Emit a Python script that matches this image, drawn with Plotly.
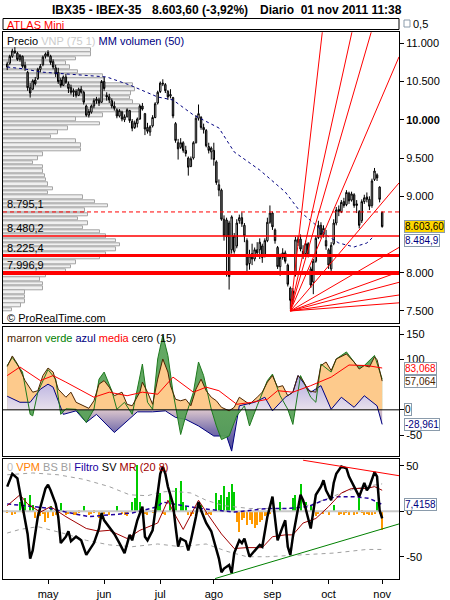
import numpy as np
import pandas as pd
import plotly.graph_objects as go

FONT = "Liberation Sans, Arial, sans-serif"

# sessions of the Bolsa de Madrid (closed 22 and 25 April)
sessions = pd.bdate_range("2011-04-06", "2011-11-01")
sessions = sessions[~sessions.isin(pd.to_datetime(["2011-04-22", "2011-04-25"]))]
month_labels = ["may", "jun", "jul", "ago", "sep", "oct", "nov"]

# --- IBEX-35 daily candles ---
opens = [
    10690, 10740, 10830, 10900, 10870, 10790, 10830, 10710, 10620, 10420, 10400, 10520, 10540, 10660, 10720, 10830,
    10880, 10830, 10760, 10680, 10620, 10520, 10450, 10560, 10470, 10420, 10360, 10370, 10320, 10400, 10360, 10180,
    10060, 10100, 10180, 10250, 10260, 10230,
    10500, 10320, 10300, 10250, 10180, 10130, 10050, 10100, 10000, 10040, 10120, 9980, 9900, 9950, 10010, 10180,
    10080, 9900, 9840, 9920, 10030, 10220,
    10370, 10480, 10460, 10370, 10310, 10290, 9950, 9700, 9640, 9700, 9600, 9500, 9390, 9500, 9700, 10020, 10030,
    9900, 9860, 9650, 9580,
    9600, 9450, 9150, 9080, 8700, 8690, 8650, 8300, 8280, 8350, 8680, 8720, 8620, 8420, 8120, 8250, 8180, 8300,
    8300, 8350, 8220, 8420, 8660,
    8780, 8560, 8330, 8080, 8200, 8260, 8100, 7800, 7650, 8000, 8400, 8440, 8280, 8250, 8380, 8050, 7880, 8150,
    8460, 8620, 8500, 8420,
    8300, 8050, 8380, 8650, 8830, 8800, 8930, 8890, 9040, 8950, 9020, 8880, 8800, 8680, 8930, 8990, 8960, 8880,
    9220, 9280, 9120,
    8790,
]
highs = [
    10760, 10850, 10930, 10950, 10890, 10860, 10840, 10760, 10640, 10480, 10530, 10560, 10680, 10730, 10840, 10880,
    10910, 10850, 10790, 10720, 10680, 10550, 10580, 10600, 10500, 10460, 10410, 10400, 10420, 10440, 10380, 10200,
    10140, 10200, 10280, 10300, 10290, 10520,
    10560, 10360, 10340, 10280, 10240, 10150, 10140, 10120, 10070, 10150, 10130, 10010, 9990, 10030, 10200, 10220,
    10090, 9960, 9930, 10060, 10230, 10380,
    10500, 10530, 10480, 10390, 10400, 10300, 9970, 9750, 9760, 9720, 9660, 9520, 9520, 9720, 10060, 10200, 10050,
    9950, 9880, 9700, 9650,
    9700, 9470, 9220, 9100, 8750, 8720, 8680, 8750, 8520, 8700, 8760, 8790, 8650, 8450, 8300, 8380, 8330, 8400,
    8450, 8380, 8450, 8720, 8880,
    8800, 8580, 8350, 8250, 8320, 8290, 8120, 7820, 7800, 8470, 8480, 8500, 8360, 8420, 8400, 8080, 8180, 8480,
    8680, 8660, 8620, 8560,
    8320, 8400, 8700, 8860, 8880, 8950, 8980, 9080, 9060, 9060, 9040, 8950, 8820, 8960, 9020, 9050, 9000, 9230,
    9370, 9300, 9130,
    8800,
]
lows = [
    10650, 10720, 10810, 10860, 10770, 10760, 10680, 10640, 10380, 10290, 10390, 10450, 10520, 10620, 10700, 10800,
    10820, 10720, 10660, 10560, 10470, 10420, 10440, 10470, 10350, 10330, 10300, 10290, 10310, 10340, 10200, 10040,
    10030, 10080, 10150, 10210, 10180, 10220,
    10380, 10250, 10220, 10150, 10120, 10020, 10030, 9980, 9970, 10030, 9960, 9850, 9880, 9900, 10000, 10120,
    9800, 9820, 9790, 9900, 10020, 10200,
    10350, 10440, 10350, 10260, 10280, 10020, 9700, 9480, 9620, 9570, 9520, 9270, 9380, 9480, 9690, 9990, 9870,
    9820, 9640, 9560, 9480,
    9400, 9150, 9000, 8680, 8420, 7950, 7780, 8250, 8250, 8320, 8640, 8600, 8400, 8020, 8040, 8100, 8150, 8220,
    8180, 8130, 8200, 8400, 8640,
    8560, 8380, 8050, 7960, 8170, 8120, 7820, 7520, 7600, 7950, 8350, 8280, 8180, 8230, 8200, 7800, 7720, 8130,
    8440, 8450, 8460, 8300,
    8050, 7980, 8360, 8620, 8740, 8780, 8850, 8870, 8900, 8930, 8850, 8780, 8580, 8650, 8900, 8920, 8820, 8850,
    9200, 9200, 8920,
    8590,
]
closes = [
    10730, 10830, 10900, 10880, 10790, 10840, 10700, 10680, 10420, 10350, 10510, 10470, 10660, 10700, 10820, 10860,
    10840, 10750, 10690, 10600, 10500, 10450, 10560, 10490, 10410, 10360, 10380, 10320, 10400, 10360, 10230, 10060,
    10110, 10180, 10250, 10270, 10220, 10500,
    10410, 10300, 10260, 10180, 10150, 10050, 10120, 10010, 10040, 10130, 9990, 9890, 9960, 10010, 10180, 10140,
    9880, 9850, 9910, 10030, 10210, 10360,
    10480, 10470, 10380, 10300, 10330, 10050, 9730, 9620, 9700, 9600, 9560, 9380, 9490, 9700, 10020, 10080, 9900,
    9870, 9660, 9600, 9630,
    9480, 9180, 9080, 8700, 8480, 8470, 7950, 8730, 8480, 8650, 8720, 8640, 8480, 8100, 8220, 8180, 8300, 8260,
    8400, 8200, 8420, 8660, 8780,
    8600, 8420, 8080, 8200, 8260, 8150, 7850, 7640, 7760, 8430, 8440, 8310, 8240, 8380, 8220, 7840, 8150, 8450,
    8620, 8500, 8580, 8350,
    8100, 8360, 8650, 8820, 8800, 8920, 8880, 9050, 8940, 9030, 8880, 8900, 8620, 8930, 8980, 8960, 8870, 9200,
    9330, 9240, 8960,
    8603.6,
]
assert len(opens) == len(highs) == len(lows) == len(closes) == len(sessions)

# MM volumen (50), drawn on the price scale (session index, value)
mmvol_i = [0, 7, 13, 23, 36, 39, 48, 59, 65, 73, 83, 89, 99, 109, 115, 121, 125, 130, 136, 141, 144]
mmvol_v = [10690, 10664, 10625, 10600, 10560, 10560, 10455, 10298, 10259, 10063, 9893, 9579, 9343, 9056, 8794,
           8624, 8493, 8389, 8337, 8389, 8485]

# VNP (75 1) volume profile, top bin to bottom bin
vnp_top, vnp_bottom = 10910, 7515
vnp_volume = [88, 88, 73, 63, 67, 75, 100, 102, 130, 132, 128, 127, 130, 137, 137, 100, 73, 97, 65, 55, 48,
              73, 78, 78, 40, 35, 30, 40, 40, 42, 43, 45, 50, 45, 80, 92, 105, 82, 85, 75, 85, 80, 97, 103,
              113, 117, 113, 103, 97, 73, 68, 63, 43, 37, 40, 40, 22, 22, 22, 18, 9]

# support / resistance levels
levels = [8795.1, 8480.2, 8225.4, 7996.9]
level_text = ["8.795,1", "8.480,2", "8.225,4", "7.996,9"]

# fan from the September low (points per session)
fan_origin = ("2011-09-12", 7500)
fan_slopes = [291, 151, 115, 78, 39.3, 19.5, 12, 8.8, 4.9, 2.5]

# --- marron verde azul media cero (15) ---
marron_i = [0, 2, 4, 7, 10, 12, 14, 16, 18, 20, 23, 25, 27, 30, 32, 34, 36, 38, 40, 42, 45, 47, 49, 52, 53, 55,
            57, 59, 61, 63, 64, 66, 68, 70, 72, 74, 76, 78, 80, 82, 84, 87, 89, 91, 93, 95, 98, 100, 102, 104,
            106, 108, 110, 112, 114, 116, 118, 121, 123, 125, 127, 129, 133, 136, 138, 140, 142, 144, 145, 147]
marron_v = [86, 107, 91, 58, 35, 38, 68, 83, 75, 41, 25, 35, 15, 8, 3, 18, 51, 58, 45, 28, 35, 11, 8, 35, 55, 35,
            11, 61, 101, 75, 48, 21, 18, 21, 8, 41, 61, 38, 25, 18, 5, -2, 5, 25, 18, 11, 25, 35, 55, 68,
            45, 48, 28, 35, 68, 58, 38, 35, 88, 95, 78, 101, 111, 95, 81, 88, 85, 105, 100, 57.064]
verde_i = [0, 2, 6, 9, 10, 12, 16, 19, 21, 23, 27, 31, 34, 36, 38, 41, 43, 46, 49, 53, 55, 57, 59, 61, 63, 65,
           68, 70, 73, 75, 77, 80, 82, 84, 87, 90, 93, 95, 98, 102, 104, 107, 110, 112, 115, 117, 119, 121, 123,
           127, 129, 133, 137, 140, 144, 147]
verde_v = [88, 104, 75, -9, -12, 35, 80, 61, -9, 2, 1, -25, 1, 61, 75, 38, 1, 15, -9, 91, 15, 1, 101, 148, 108,
           35, -49, -12, 35, 95, 68, 1, -32, -59, -52, -12, 8, -32, 8, 58, 71, 28, 1, -29, 68, 48, 25, 15, 91,
           75, 101, 115, 88, 88, 108, 61]
azul_i = [0, 5, 9, 13, 16, 18, 22, 27, 31, 35, 42, 47, 51, 57, 62, 66, 70, 75, 81, 86, 88, 91, 97, 101, 104, 109,
          112, 114, 119, 123, 127, 131, 136, 140, 145, 147]
azul_v = [27, 15, 15, 41, 51, 45, -9, -2, -25, -9, -45, -22, -4, -4, -2, -15, -19, -32, -52, -52, -82, 8, 15, 25,
          -2, 25, 35, 68, 35, 48, 1, 25, 5, 28, 8, -28.961]
media_i = [0, 5, 13, 18, 23, 34, 40, 47, 53, 59, 65, 73, 78, 83, 90, 96, 102, 106, 112, 119, 127, 134, 141, 147]
media_v = [68, 85, 58, 68, 55, 25, 35, 28, 35, 31, 65, 35, 45, 38, 11, 15, 21, 38, 35, 48, 65, 89, 88, 83.068]

# --- 0 VPM BS BI Filtro SV MR (20 8) ---
vpm_i = [0, 2, 3, 5, 6, 7, 9, 10, 11, 12, 13, 14, 15, 16, 17, 18, 19, 20, 21, 23, 24, 26, 27, 28, 30, 32, 33, 34,
         36, 38, 40, 43, 45, 46, 47, 49, 50, 51, 52, 54, 55, 57, 59, 60, 61, 62, 64, 66, 68, 69, 70, 71, 72, 73,
         76, 78, 79, 80, 82, 83, 84, 85, 86, 87, 88, 89, 90, 91, 92, 93, 94, 95, 96, 97, 98, 99, 100, 101, 102,
         103, 107, 112, 113, 115, 117, 119, 120, 121, 122, 124, 126, 128, 130, 131, 132, 133, 134, 136, 137, 138,
         139, 140, 141, 142, 143, 144, 145, 146, 147]
vpm_v = [-2, -4, -3, 10, -2, 14, 18, 7, -8, -5, -6, -3, -12, -8, 5, -6, -4, -3, 9, -4, -3, -5, -4, -2, 5, -4, -3,
         -2, -8, -3, -4, 5, -3, -4, -6, 10, 14, 50, 10, -3, -4, -2, 18, 20, -3, -4, 18, 25, 33, 10, 5, -5, -6, -3,
         7, -4, -3, -4, 20, 12, 18, 27, 15, 21, 29, 21, -12, -23, -10, -8, -15, -10, -14, -19, -15, -12, -10, -6,
         -4, -3, 10, 14, 18, 29, 10, 7, -4, -6, -3, -3, -4, 7, -4, -3, -5, -2, -4, -4, -3, 14, -2, -4, -3, -5,
         -4, -3, 10, -3, -21]
sv_i = [0, 2, 4, 5, 6, 8, 9, 10, 12, 14, 15, 16, 17, 19, 20, 21, 23, 24, 25, 27, 29, 31, 34, 36, 37, 38, 40, 42,
        44, 46, 48, 49, 50, 51, 53, 54, 55, 57, 59, 60, 61, 62, 63, 65, 66, 67, 68, 70, 71, 72, 74, 75, 76, 78,
        80, 82, 83, 84, 85, 87, 88, 89, 91, 92, 93, 95, 97, 99, 100, 102, 104, 105, 106, 108, 109, 110, 111, 112,
        114, 115, 116, 117, 119, 120, 121, 123, 124, 125, 127, 128, 129, 131, 133, 134, 136, 138, 140, 141, 142,
        144, 145, 146, 147]
sv_v = [27, 41, 36, 20, 8, -25, -52, -43, -6, 16, 25, 29, 23, 8, -6, -35, -28, -22, -33, -28, -32, -48, -35, -19,
        -2, -10, -17, -25, -35, -46, -26, -32, -21, -10, 5, -28, -32, -21, 20, 41, 49, 41, 27, 8, -17, -39, -30,
        -33, -43, -32, -6, 10, 1, -13, -22, -43, -52, -67, -63, -59, -68, -46, -32, -35, -30, -50, -43, -37, -39,
        -6, 16, -6, -32, -17, -10, -39, -48, -28, 5, 18, 12, 3, -19, -2, 18, 27, 34, 23, 12, 31, 41, 49, 47, 38,
        27, 16, 31, 23, 27, 43, 38, 1, -8]
mr_i = [0, 5, 8, 13, 17, 23, 31, 36, 40, 47, 52, 59, 63, 65, 69, 75, 79, 84, 89, 94, 100, 104, 109, 112, 116, 121,
        126, 131, 135, 141, 144, 147]
mr_v = [6, 18, 8, -1, 5, -6, -19, -22, -21, -30, -21, -13, 12, 0, -20, 12, -5, -25, -41, -40, -40, -28, -26, -26,
        -13, -8, 5, 20, 25, 25, 27, 23]
filtro_i = [0, 17, 23, 32, 40, 49, 59, 61, 65, 76, 89, 102, 110, 118, 124, 129, 136, 142, 147]
filtro_v = [8, 3, -1, -6, -4, -2, 5, 10, 8, 3, -1, 3, 3, 5, 12, 16, 16, 14, 7.4158]
bs_i = [0, 10, 20, 30, 40, 48, 55, 60, 65, 72, 78, 85, 95, 105, 113, 120, 127, 133, 140, 147]
bs_v = [40, 42, 40, 35, 27, 18, 17, 21, 22, 20, 12, 6, 3, 3, 3, 8, 16, 22, 27, 30]
bi_i = [0, 5, 12, 23, 31, 40, 49, 59, 68, 78, 86, 94, 102, 115, 128, 141, 147]
bi_v = [-24, -20, -17, -25, -32, -37, -39, -36, -39, -36, -44, -50, -50, -48, -46, -42, -42]
trend_res = ([116, 153.6], [56, 39])
trend_sup = ([81.5, 153.6], [-74, -14])

# ---------------------------------------------------------------------------
idx = np.arange(len(sessions))
month_pos = [int(np.argmax(sessions.month == m)) for m in range(5, 12)]
X_RANGE = [-1.65, 153.6]
H = 600


def py(px):
    return 1 - px / H


def px_x(px):
    return (px - 3) / 396


fig = go.Figure()

# volume profile (base axis of price panel, so it sits behind the candles)
vnp_price = np.linspace(vnp_top, vnp_bottom, len(vnp_volume))
fig.add_trace(go.Bar(
    x=vnp_volume, y=vnp_price, orientation="h", width=46, xaxis="x", yaxis="y",
    marker=dict(color="#f0f0f0", line=dict(color="#a4a4a4", width=1)), hoverinfo="skip",
))
fig.add_trace(go.Candlestick(
    x=idx, open=opens, high=highs, low=lows, close=closes, xaxis="x4", yaxis="y",
    increasing=dict(line=dict(color="black", width=1), fillcolor="white"),
    decreasing=dict(line=dict(color="black", width=1), fillcolor="#808080"),
    whiskerwidth=0,
))
fig.add_trace(go.Scatter(x=mmvol_i, y=mmvol_v, mode="lines", xaxis="x4", yaxis="y",
                         line=dict(color="#000080", width=1, dash="3px,3px")))
x0 = sessions.get_loc(pd.Timestamp(fan_origin[0]))
for s in fan_slopes:
    fig.add_trace(go.Scatter(
        x=[x0, X_RANGE[1]], y=[fan_origin[1], fan_origin[1] + s * (X_RANGE[1] - x0)],
        mode="lines", xaxis="x4", yaxis="y", line=dict(color="#ff0000", width=1),
    ))

# panel 2: green above zero sits under the orange, green below zero sits over the blue
GREEN = "rgba(85,160,85,0.92)"
CLEAR = "rgba(255,255,255,0)"
fig.add_trace(go.Scatter(
    x=verde_i, y=verde_v, fill="tozeroy", mode="none", xaxis="x2", yaxis="y2",
    fillgradient=dict(type="vertical", start=-92, stop=165,
                      colorscale=[[0, CLEAR], [0.357, CLEAR], [0.359, GREEN], [1, GREEN]]),
))
fig.add_trace(go.Scatter(x=marron_i, y=marron_v, fill="tozeroy", mode="none", xaxis="x2", yaxis="y2",
                         fillcolor="#fdca8c"))
fig.add_trace(go.Scatter(
    x=azul_i, y=azul_v, fill="tozeroy", mode="lines", xaxis="x2", yaxis="y2",
    fillgradient=dict(type="vertical", start=-92, stop=165, colorscale=[
        [0, "rgba(45,45,140,0.95)"], [0.2, "rgba(110,100,165,0.9)"], [0.355, "rgba(210,185,195,0.85)"],
        [0.36, "rgba(228,228,252,0.85)"], [0.6, "rgba(170,170,240,0.85)"], [1, "rgba(100,100,225,0.85)"]]),
    line=dict(color="#000080", width=1),
))
fig.add_trace(go.Scatter(
    x=verde_i, y=verde_v, fill="tozeroy", mode="lines", xaxis="x2", yaxis="y2",
    fillgradient=dict(type="vertical", start=-92, stop=165,
                      colorscale=[[0, GREEN], [0.357, GREEN], [0.359, CLEAR], [1, CLEAR]]),
    line=dict(color="#1e7a1e", width=1),
))
fig.add_trace(go.Scatter(x=marron_i, y=marron_v, mode="lines", xaxis="x2", yaxis="y2",
                         line=dict(color="#4a2400", width=1)))
fig.add_trace(go.Scatter(x=media_i, y=media_v, mode="lines", xaxis="x2", yaxis="y2",
                         line=dict(color="#ff0000", width=1)))
fig.add_trace(go.Scatter(x=X_RANGE, y=[0, 0], mode="lines", xaxis="x2", yaxis="y2",
                         line=dict(color="black", width=1)))

# panel 3
fig.add_trace(go.Scatter(x=X_RANGE, y=[0, 0], mode="lines", xaxis="x3", yaxis="y3",
                         line=dict(color="#c8c8c8", width=2)))
fig.add_trace(go.Bar(x=vpm_i, y=vpm_v, width=0.4, xaxis="x3", yaxis="y3",
                     marker=dict(color=["#00cc00" if v > 0 else "#ff9900" for v in vpm_v], line=dict(width=0))))
fig.add_trace(go.Scatter(x=bs_i, y=bs_v, mode="lines", xaxis="x3", yaxis="y3",
                         line=dict(color="#a0a0a0", width=1, dash="4px,4px")))
fig.add_trace(go.Scatter(x=bi_i, y=bi_v, mode="lines", xaxis="x3", yaxis="y3",
                         line=dict(color="#a0a0a0", width=1, dash="4px,4px")))
fig.add_trace(go.Scatter(x=filtro_i, y=filtro_v, mode="lines", xaxis="x3", yaxis="y3",
                         line=dict(color="#2000a0", width=1.5, dash="4px,3px")))
fig.add_trace(go.Scatter(x=mr_i, y=mr_v, mode="lines", xaxis="x3", yaxis="y3",
                         line=dict(color="#a00000", width=1)))
fig.add_trace(go.Scatter(x=sv_i, y=sv_v, mode="lines", xaxis="x3", yaxis="y3",
                         line=dict(color="black", width=2.5)))
fig.add_trace(go.Scatter(x=trend_res[0], y=trend_res[1], mode="lines", xaxis="x3", yaxis="y3",
                         line=dict(color="#ff0000", width=1)))
fig.add_trace(go.Scatter(x=trend_sup[0], y=trend_sup[1], mode="lines", xaxis="x3", yaxis="y3",
                         line=dict(color="#008000", width=1)))

# horizontal levels
shapes = []
for lv, w, d in zip(levels, [1, 1.5, 3, 4], ["4px,3px", "solid", "solid", "solid"]):
    shapes.append(dict(type="line", xref="paper", x0=0, x1=1, yref="y", y0=lv, y1=lv,
                       line=dict(color="#ff0000", width=w, dash=d)))
shapes.append(dict(type="rect", xref="paper", x0=0, x1=1, yref="paper", y0=py(29.5), y1=py(18.5),
                   line=dict(color="black", width=1)))
shapes.append(dict(type="rect", xref="paper", x0=px_x(404), x1=px_x(410), yref="paper", y0=py(27), y1=py(20),
                   line=dict(color="#8a9bab", width=1)))

ann = []


def text(x_px, y_px, s, size=11, color="black", xanchor="left", bold=False):
    ann.append(dict(xref="paper", yref="paper", x=px_x(x_px), y=py(y_px), text=f"<b>{s}</b>" if bold else s,
                    showarrow=False, xanchor=xanchor, yanchor="middle",
                    font=dict(family=FONT, size=size, color=color)))


def box(yref, yval, s, color, bg="white", yshift=0):
    ann.append(dict(xref="paper", yref=yref, x=px_x(404), y=yval, text=s, showarrow=False,
                    xanchor="left", yanchor="middle", yshift=yshift, bgcolor=bg, bordercolor="#8a9bab",
                    borderwidth=1, borderpad=0, font=dict(family=FONT, size=10, color=color)))


text(50, 10, "IBX35 - IBEX-35", size=12, bold=True)
text(150, 10, "8.603,60 (-3,92%)", size=12, bold=True)
text(258, 10, "Diario&nbsp;&nbsp;01 nov 2011 11:38", size=12, bold=True)
text(5, 25, "ATLAS Mini", color="#ff0000")
text(411, 24, "0,5", size=11)
text(5, 41, "Precio <span style='color:#cccccc'>VNP (75 1)</span> "
            "<span style='color:#000080'>MM volumen (50)</span>")
text(5, 318, "© ProRealTime.com")
text(5, 338, "<span style='color:#4a2400'>marron</span> <span style='color:#008000'>verde</span> "
             "<span style='color:#000080'>azul</span> <span style='color:#ff0000'>media</span> cero (15)")
text(5, 467, "<span style='color:#c0c0c0'>0</span> <span style='color:#ff8000'>VPM</span> "
             "<span style='color:#a0a0a0'>BS BI</span> <span style='color:#2000a0'>Filtro</span> SV "
             "<span style='color:#a00000'>MR (20 8)</span>")
for lv, s in zip(levels, level_text):
    ann.append(dict(xref="paper", yref="y", x=px_x(5), y=lv, text=s, showarrow=False, xanchor="left",
                    yanchor="bottom", yshift=0, font=dict(family=FONT, size=11, color="black")))

box("y", 8484.9, "8.484,9", "#000080", yshift=-5)
box("y", 8603.6, "8.603,60", "black", bg="#ffd700")
box("y2", 83.068, "83,068", "#ff0000")
box("y2", 57.064, "57,064", "#4a2400")
box("y2", 0, "0", "black")
box("y2", -28.961, "-28,961", "#000080")
box("y3", 7.4158, "7,4158", "#000080")

frame = dict(showline=True, mirror=True, linecolor="black", linewidth=1, showgrid=False, zeroline=False,
             automargin=False)
yax = dict(side="right", ticks="outside", ticklen=4, tickcolor="black",
           tickfont=dict(family=FONT, size=11, color="black"), **frame)

fig.update_layout(
    width=450, height=600, margin=dict(l=3, r=51, t=0, b=0, autoexpand=False),
    paper_bgcolor="white", plot_bgcolor="white", showlegend=False, bargap=0, boxgap=0.2,
    font=dict(family=FONT, size=11, color="black"),
    xaxis=dict(domain=[0, 1], range=[0, 396], visible=False, anchor="y", fixedrange=True, automargin=False),
    xaxis4=dict(overlaying="x", anchor="y", range=X_RANGE, showticklabels=False, ticks="",
                rangeslider=dict(visible=False), **frame),
    xaxis2=dict(domain=[0, 1], anchor="y2", range=X_RANGE, showticklabels=False, ticks="", **frame),
    xaxis3=dict(domain=[0, 1], anchor="y3", range=X_RANGE, tickvals=month_pos, ticktext=month_labels,
                ticks="outside", ticklen=4, tickcolor="black",
                tickfont=dict(family=FONT, size=11, color="black"), **frame),
    yaxis=dict(domain=[py(323.3), py(32.3)], anchor="x", range=[7339, 11144],
               tickvals=[11000, 10500, 10000, 9500, 9000, 8000, 7500],
               ticktext=["11.000", "10.500", "<b>10.000</b>", "9.500", "9.000", "8.000", "7.500"], **yax),
    yaxis2=dict(domain=[py(456), py(327)], anchor="x2", range=[-91.7, 164.5],
                tickvals=[150, 100, 0, -50], ticktext=["150", "100", "", "-50"], **yax),
    yaxis3=dict(domain=[py(579.3), py(459.3)], anchor="x3", range=[-74.8, 57],
                tickvals=[50, 0, -50], ticktext=["50", "0", "-50"], **yax),
    shapes=shapes, annotations=ann,
)

# the page body has a default 8px margin; drop it so the chart sits at the window origin
fig.write_html("out.html", config={"displayModeBar": False},
               post_script="document.body.style.margin='0';")
